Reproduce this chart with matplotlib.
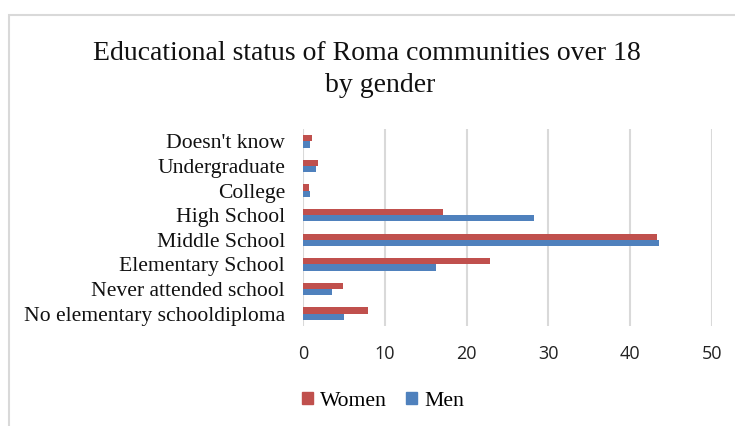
import matplotlib
matplotlib.use("Agg")
import matplotlib.pyplot as plt
from matplotlib.patches import Rectangle, Patch
import numpy as np

categories = ["No elementary schooldiploma", "Never attended school", "Elementary School",
              "Middle School", "High School", "College", "Undergraduate", "Doesn't know"]
women = [7.96, 4.9, 22.9, 43.3, 17.1, 0.78, 1.8, 1.06]
men = [5.06, 3.55, 16.3, 43.5, 28.2, 0.9, 1.55, 0.9]
xticks = [0, 10, 20, 30, 40, 50]

W, H = 735, 426
fig = plt.figure(figsize=(W/100, H/100), dpi=100)
fig.patches.append(Rectangle((8.5/W, -0.1), 1.2, 1 - 14.5/H + 0.1, transform=fig.transFigure,
                             fill=False, edgecolor="#d9d9d9", linewidth=1.5))

ax = fig.add_axes([303/W, 1 - 326/H, (712-303)/W, (326-129)/H])
y = np.arange(len(categories))
h = 0.255
red = "#C0504D"
blue = "#4F81BD"
ax.barh(y + h/2, women, height=h, color=red, label="Women")
ax.barh(y - h/2, men, height=h, color=blue, label="Men")
ax.set_xlim(0, 50)
ax.set_ylim(-0.5, len(categories) - 0.5)
ax.set_xticks(xticks)
ax.set_xticklabels([str(t) for t in xticks], fontfamily="Open Sans", fontsize=13, color="#222222")
ax.set_yticks(y)
ax.set_yticklabels(categories, fontfamily="Liberation Serif", fontsize=15.6, color="#111111")
ax.tick_params(axis="both", length=0)
ax.tick_params(axis="x", pad=14)
ax.tick_params(axis="y", pad=13)
for s in ax.spines.values():
    s.set_visible(False)
ax.grid(axis="x", color="#d9d9d9", linewidth=1.5)
ax.set_axisbelow(True)

fig.text(367/W, 1 - 53/H, "Educational status of Roma communities over 18", ha="center", va="center",
         fontfamily="Liberation Serif", fontsize=20, color="#111111")
fig.text(380/W, 1 - 86/H, "by gender", ha="center", va="center",
         fontfamily="Liberation Serif", fontsize=20, color="#111111")

handles = [Patch(color=red, label="Women"), Patch(color=blue, label="Men")]
fig.legend(handles=handles, loc="center", bbox_to_anchor=(383/W, 1 - 401/H), ncol=2, frameon=False,
           prop={"family": "Liberation Serif", "size": 15.6}, handlelength=0.5, handleheight=0.5,
           handletextpad=0.35, columnspacing=0.85)

fig.savefig("out.png", dpi=100)
